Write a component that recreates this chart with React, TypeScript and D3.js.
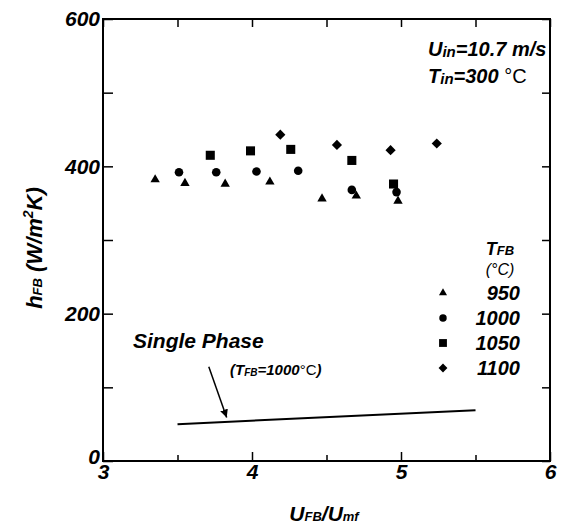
import * as React from "react"
import * as d3 from "d3"

// axis ticks
const xMajor = [3, 4, 5, 6]
const xMinor = [3.5, 4.5, 5.5]
const yMajor = [0, 200, 400, 600]
const yMinor = [100, 300, 500]

// h_FB vs U_FB/U_mf for each bed temperature
const t950 = [
  [3.35, 382],
  [3.55, 377],
  [3.82, 376],
  [4.12, 379],
  [4.47, 356],
  [4.7, 360],
  [4.98, 353],
]
const t1000 = [
  [3.51, 392],
  [3.76, 392],
  [4.03, 393],
  [4.31, 394],
  [4.67, 368],
  [4.97, 365],
]
const t1050 = [
  [3.72, 415],
  [3.99, 421],
  [4.26, 423],
  [4.67, 408],
  [4.95, 376],
]
const t1100 = [
  [4.19, 443],
  [4.57, 429],
  [4.93, 422],
  [5.24, 431],
]
const legendTemps = ["950", "1000", "1050", "1100"]

// single phase reference line (T_FB = 1000 C)
const singlePhase = [
  [3.5, 50],
  [5.5, 69],
]
// arrow from the label to the line, in data units
const arrowFrom = [3.71, 128]
const arrowTo = [3.83, 59]

const FONT = "'Liberation Sans', Arial, sans-serif"

function render(svgRef: React.RefObject<SVGSVGElement>) {
  const width = 562
  const height = 528
  const margin = { top: 19, right: 12, bottom: 67, left: 103 }

  const svg = d3.select(svgRef.current).attr("width", width).attr("height", height)
  svg.selectAll("*").remove()

  const xScale = d3.scaleLinear().domain([3, 6]).range([margin.left, width - margin.right])
  const yScale = d3.scaleLinear().domain([0, 600]).range([height - margin.bottom, margin.top])

  const root = svg.append("g").attr("font-family", FONT)

  const markers = [
    { data: t950, type: d3.symbolTriangle, size: 38, rot: 0 },
    { data: t1000, type: d3.symbolCircle, size: 58, rot: 0 },
    { data: t1050, type: d3.symbolSquare, size: 82, rot: 0 },
    { data: t1100, type: d3.symbolSquare, size: 52, rot: 45 },
  ]

  // axes (ticks point inward)
  const axisStyle = (g: d3.Selection<SVGGElement, unknown, null, undefined>) => {
    g.select(".domain").remove()
    g.selectAll(".tick line").attr("stroke", "#000").attr("stroke-width", 1.5)
    g.selectAll(".tick text")
      .attr("fill", "#000")
      .attr("font-family", FONT)
      .attr("font-weight", "bold")
      .attr("font-style", "italic")
      .attr("font-size", 21)
  }

  const yPix = height - margin.bottom
  root
    .append("g")
    .attr("transform", `translate(0,${yPix})`)
    .call(d3.axisBottom(xScale).tickValues(xMajor).tickSizeInner(-9).tickSizeOuter(0).tickPadding(3).tickFormat(d3.format("d")))
    .call(axisStyle)
  root
    .append("g")
    .attr("transform", `translate(0,${yPix})`)
    .call(d3.axisBottom(xScale).tickValues(xMinor).tickSizeInner(-6).tickSizeOuter(0).tickFormat(() => ""))
    .call(axisStyle)
  root
    .append("g")
    .attr("transform", `translate(0,${margin.top})`)
    .call(d3.axisTop(xScale).tickValues(xMajor.concat(xMinor)).tickSizeInner(-8).tickSizeOuter(0).tickFormat(() => ""))
    .call(axisStyle)
  root
    .append("g")
    .attr("transform", `translate(${margin.left},0)`)
    .call(d3.axisLeft(yScale).tickValues(yMajor).tickSizeInner(-10).tickSizeOuter(0).tickPadding(3).tickFormat(d3.format("d")))
    .call(axisStyle)
  root
    .append("g")
    .attr("transform", `translate(${margin.left},0)`)
    .call(d3.axisLeft(yScale).tickValues(yMinor).tickSizeInner(-10).tickSizeOuter(0).tickFormat(() => ""))
    .call(axisStyle)
  root
    .append("g")
    .attr("transform", `translate(${width - margin.right},0)`)
    .call(d3.axisRight(yScale).tickValues(yMajor.concat(yMinor)).tickSizeInner(-8).tickSizeOuter(0).tickFormat(() => ""))
    .call(axisStyle)

  // y label "0" sits a bit above the corner
  root.selectAll(".tick text").filter((d) => d === 0).attr("dy", "0.1em")

  // frame
  root
    .append("rect")
    .attr("x", margin.left)
    .attr("y", margin.top)
    .attr("width", width - margin.left - margin.right)
    .attr("height", height - margin.top - margin.bottom)
    .attr("fill", "none")
    .attr("stroke", "#000")
    .attr("stroke-width", 2)

  // data markers
  markers.forEach((m) => {
    const sym = d3.symbol().type(m.type).size(m.size)
    root
      .append("g")
      .selectAll("path")
      .data(m.data)
      .join("path")
      .attr("d", sym)
      .attr("fill", "#000")
      .attr("transform", (d) => `translate(${xScale(d[0])},${yScale(d[1])}) rotate(${m.rot})`)
  })

  // single phase line
  const line = d3
    .line<number[]>()
    .x((d) => xScale(d[0]))
    .y((d) => yScale(d[1]))
  root
    .append("path")
    .attr("d", line(singlePhase))
    .attr("fill", "none")
    .attr("stroke", "#000")
    .attr("stroke-width", 2)

  // arrow
  svg
    .append("defs")
    .append("marker")
    .attr("id", "arrowHead")
    .attr("viewBox", "0 0 10 10")
    .attr("refX", 10)
    .attr("refY", 5)
    .attr("markerWidth", 8)
    .attr("markerHeight", 8)
    .attr("markerUnits", "userSpaceOnUse")
    .attr("orient", "auto")
    .append("path")
    .attr("d", "M0,0L10,5L0,10Z")
    .attr("fill", "#000")
  root
    .append("line")
    .attr("x1", xScale(arrowFrom[0]))
    .attr("y1", yScale(arrowFrom[1]))
    .attr("x2", xScale(arrowTo[0]))
    .attr("y2", yScale(arrowTo[1]))
    .attr("stroke", "#000")
    .attr("stroke-width", 1.5)
    .attr("marker-end", "url(#arrowHead)")

  const bi = (sel: d3.Selection<SVGTextElement, unknown, null, undefined>) =>
    sel.attr("font-weight", "bold").attr("font-style", "italic").attr("fill", "#000")

  // Single Phase label
  root.append("text").attr("x", 133).attr("y", 348).attr("font-size", 21).call(bi).text("Single Phase")
  const sp = root.append("text").attr("x", 230).attr("y", 375).attr("font-size", 15).call(bi)
  sp.append("tspan").text("(T")
  sp.append("tspan").attr("font-size", 10).attr("dy", 1).text("FB")
  sp.append("tspan").attr("dy", -1).text("=1000")
  sp.append("tspan").attr("font-weight", "normal").attr("font-style", "normal").text("°C")
  sp.append("tspan").text(")")

  // conditions
  const u = root.append("text").attr("x", 428).attr("y", 56).attr("font-size", 20).call(bi)
  u.append("tspan").text("U")
  u.append("tspan").attr("font-size", 15).attr("dy", 1).text("in")
  u.append("tspan").attr("dy", -1).text("=10.7 m/s")
  const tin = root.append("text").attr("x", 428).attr("y", 83).attr("font-size", 20).call(bi)
  tin.append("tspan").text("T")
  tin.append("tspan").attr("font-size", 15).attr("dy", 1).text("in")
  tin.append("tspan").attr("dy", -1).text("=300 ")
  tin.append("tspan").attr("font-weight", "normal").attr("font-style", "normal").text("°C")

  // legend
  const lt = root.append("text").attr("x", 500).attr("y", 255).attr("text-anchor", "middle").attr("font-size", 18).call(bi)
  lt.append("tspan").text("T")
  lt.append("tspan").attr("font-size", 13).text("FB")
  root
    .append("text")
    .attr("x", 500)
    .attr("y", 275)
    .attr("text-anchor", "middle")
    .attr("font-size", 16)
    .attr("font-style", "italic")
    .text("(°C)")

  const legend = root
    .append("g")
    .selectAll("g")
    .data(legendTemps)
    .join("g")
    .attr("transform", (_, i) => `translate(0,${293 + i * 25})`)
  legend
    .append("path")
    .attr("d", (_, i) => d3.symbol().type(markers[i].type).size(markers[i].size * 0.75)())
    .attr("transform", (_, i) => `translate(443,0) rotate(${markers[i].rot})`)
    .attr("fill", "#000")
  legend
    .append("text")
    .attr("x", 520)
    .attr("y", 7)
    .attr("text-anchor", "end")
    .attr("font-size", 20)
    .attr("font-weight", "bold")
    .attr("font-style", "italic")
    .text((d) => d)

  // axis titles
  const xt = root
    .append("text")
    .attr("x", 324)
    .attr("y", 521)
    .attr("text-anchor", "middle")
    .attr("font-size", 21)
    .call(bi)
  xt.append("tspan").text("U")
  xt.append("tspan").attr("font-size", 13).text("FB")
  xt.append("tspan").text("/U")
  xt.append("tspan").attr("font-size", 13).text("mf")

  const yt = root
    .append("text")
    .attr("transform", "translate(42,248) rotate(-90)")
    .attr("text-anchor", "middle")
    .attr("font-size", 22)
    .call(bi)
  yt.append("tspan").text("h")
  yt.append("tspan").attr("font-size", 13).text("FB")
  yt.append("tspan").text(" (W/m")
  yt.append("tspan").attr("font-size", 14).attr("dy", -9).text("2")
  yt.append("tspan").attr("dy", 9).text("K)")
}

export default function App(): React.JSX.Element {
  const svg = React.useRef<SVGSVGElement>(null)

  React.useEffect(() => {
    render(svg)
  }, [])

  return (
    <div style={{ position: "absolute", left: 0, top: 0, width: 562, height: 528, background: "#fff" }}>
      <svg ref={svg} style={{ display: "block" }}></svg>
    </div>
  )
}
